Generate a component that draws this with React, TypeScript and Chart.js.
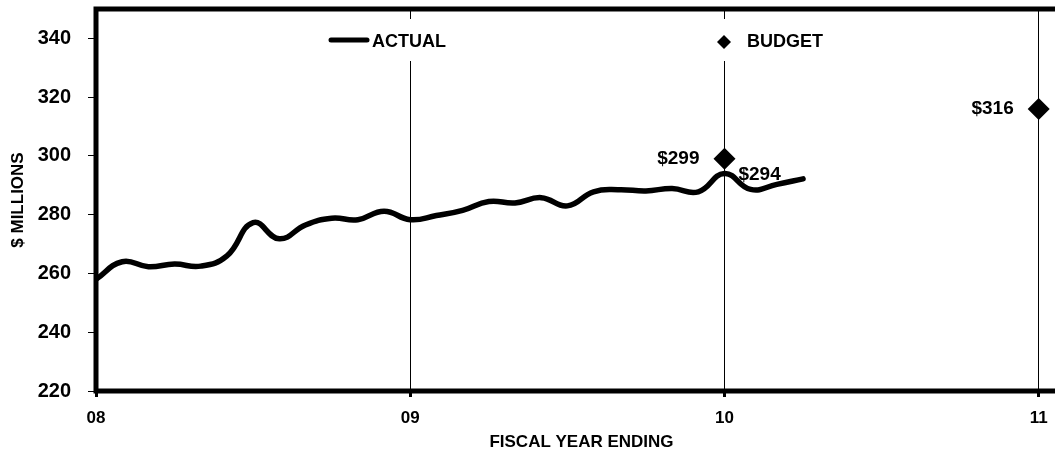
import React, { useEffect, useRef } from 'react';
import { Chart, registerables } from 'chart.js';

Chart.register(...registerables);

// Fiscal-year axis (value = year, label = two-digit year)
const yearTicks = [8, 9, 10, 11];
const yearTickLabels = ['08', '09', '10', '11'];

// $ millions axis
const valueTicks = [220, 240, 260, 280, 300, 320, 340];
const valueMin = 220;
const valueMax = 350;

// Monthly actuals, starting at the beginning of FY08
const actualStartYear = 8;
const actualMonthly = [
  258, 264, 262.3, 263.2, 262.5, 266, 277.3, 271.8, 276.5, 278.8, 278.3, 281.2,
  278.3, 279.7, 281.5, 284.5, 284, 285.8, 283, 287.8, 288.5, 288.1, 288.9, 287.8,
  294, 288.6, 290.3, 292.2,
];
// Month whose actual value gets a callout
const actualLabelIndex = 24;

// Budget by fiscal year
const budgetYears = [10, 11];
const budgetValues = [299, 316];

const FONT = '"Liberation Sans", Arial, Helvetica, sans-serif';

const frameAndLabels = {
  id: 'frameAndLabels',
  beforeDatasetsDraw(chart: any) {
    const { ctx, chartArea } = chart;
    ctx.save();
    ctx.strokeStyle = '#000';
    ctx.lineWidth = 5;
    ctx.strokeRect(
      chartArea.left,
      chartArea.top,
      chartArea.right - chartArea.left,
      chartArea.bottom - chartArea.top
    );
    ctx.restore();
  },
  afterDatasetsDraw(chart: any) {
    const { ctx } = chart;
    const ds = chart.data.datasets;
    ctx.save();

    // Legend panel inside the plot
    ctx.fillStyle = '#fff';
    ctx.fillRect(320, 19, 520, 42);
    ctx.fillStyle = '#000';
    ctx.strokeStyle = '#000';
    ctx.lineWidth = 5;
    ctx.lineCap = 'round';
    ctx.beginPath();
    ctx.moveTo(331, 40);
    ctx.lineTo(367, 40);
    ctx.stroke();
    ctx.font = `bold 18px ${FONT}`;
    ctx.textBaseline = 'middle';
    ctx.textAlign = 'left';
    ctx.fillText(ds[0].label, 372, 42);
    ctx.beginPath();
    ctx.moveTo(724, 35);
    ctx.lineTo(731, 42);
    ctx.lineTo(724, 49);
    ctx.lineTo(717, 42);
    ctx.closePath();
    ctx.fill();
    ctx.fillText(ds[1].label, 747, 42);

    // Value callouts
    ctx.font = `bold 19px ${FONT}`;
    const budgetMeta = chart.getDatasetMeta(1);
    ctx.textAlign = 'right';
    budgetMeta.data.forEach((pt: any, i: number) => {
      ctx.fillText(`$${budgetValues[i]}`, pt.x - 25, pt.y);
    });
    const actualMeta = chart.getDatasetMeta(0);
    const p = actualMeta.data[actualLabelIndex];
    ctx.textAlign = 'left';
    ctx.fillText(`$${actualMonthly[actualLabelIndex]}`, p.x + 14, p.y + 1);

    ctx.restore();
  },
};

export default function App() {
  const canvasRef = useRef<HTMLCanvasElement | null>(null);

  useEffect(() => {
    const canvas = canvasRef.current;
    if (!canvas) return;

    const actualPoints = actualMonthly.map((v, i) => ({ x: actualStartYear + i / 12, y: v }));
    const budgetPoints = budgetYears.map((yr, i) => ({ x: yr, y: budgetValues[i] }));

    const chart = new Chart(canvas, {
      type: 'line',
      data: {
        datasets: [
          {
            label: 'ACTUAL',
            data: actualPoints,
            borderColor: '#000',
            borderWidth: 5.5,
            borderCapStyle: 'round',
            borderJoinStyle: 'round',
            tension: 0.45,
            pointRadius: 0,
            fill: false,
          },
          {
            label: 'BUDGET',
            data: budgetPoints,
            showLine: false,
            pointStyle: 'rectRot',
            pointRadius: 11,
            pointBackgroundColor: '#000',
            pointBorderColor: '#000',
            pointBorderWidth: 0,
          },
        ],
      },
      options: {
        animation: false,
        responsive: false,
        devicePixelRatio: 1,
        layout: { autoPadding: false, padding: { top: 9, left: 0, right: 0, bottom: 0 } },
        plugins: {
          legend: { display: false },
          tooltip: { enabled: false },
        },
        scales: {
          x: {
            type: 'linear',
            min: 8,
            max: 11.09,
            afterBuildTicks: (s: any) => {
              s.ticks = yearTicks.map((v) => ({ value: v }));
            },
            afterFit: (s: any) => {
              s.height = 58;
              s.paddingLeft = 0;
              s.paddingRight = 0;
            },
            ticks: {
              callback: (_v: any, i: number) => yearTickLabels[i],
              autoSkip: false,
              maxRotation: 0,
              color: '#000',
              padding: 11,
              font: { family: FONT, size: 17, weight: 'bold' },
            },
            grid: {
              color: '#000',
              lineWidth: 1,
              drawOnChartArea: true,
              tickLength: 6,
              tickWidth: 3,
              tickColor: '#000',
            },
            border: { display: false },
            title: {
              display: true,
              text: 'FISCAL YEAR ENDING',
              color: '#000',
              padding: { top: 0, bottom: 0 },
              font: { family: FONT, size: 17, weight: 'bold', lineHeight: 0.8 },
            },
          },
          y: {
            min: valueMin,
            max: valueMax,
            afterBuildTicks: (s: any) => {
              s.ticks = valueTicks.map((v) => ({ value: v }));
            },
            afterFit: (s: any) => {
              s.width = 96;
              s.paddingTop = 0;
              s.paddingBottom = 0;
            },
            ticks: {
              color: '#000',
              padding: 17,
              font: { family: FONT, size: 20, weight: 'bold' },
            },
            grid: {
              drawOnChartArea: false,
              tickLength: 8,
              tickColor: '#000',
              lineWidth: 1,
            },
            border: { display: false },
            title: {
              display: true,
              text: '$ MILLIONS',
              color: '#000',
              padding: { top: 8, bottom: 0 },
              font: { family: FONT, size: 17, weight: 'bold' },
            },
          },
        },
      },
      plugins: [frameAndLabels],
    } as any);

    return () => chart.destroy();
  }, []);

  return (
    <div
      style={{
        position: 'fixed',
        left: 0,
        top: 0,
        width: 1055,
        height: 449,
        overflow: 'hidden',
        background: '#fff',
      }}
    >
      <canvas ref={canvasRef} width={1067} height={449} style={{ display: 'block' }} />
    </div>
  );
}
